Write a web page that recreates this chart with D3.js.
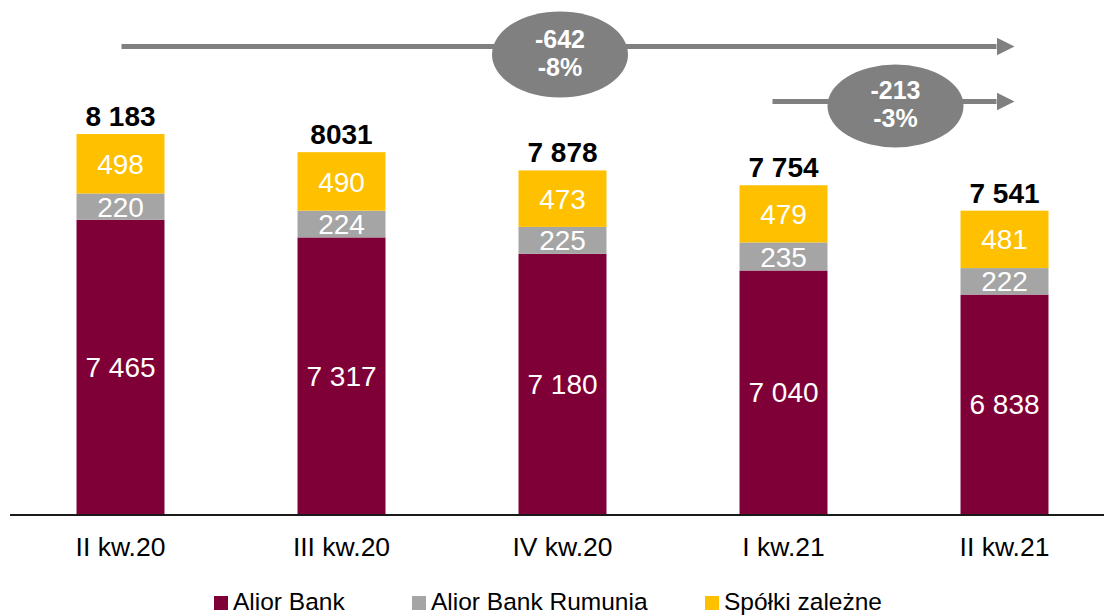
<!DOCTYPE html>
<html>
<head>
<meta charset="utf-8">
<script src="https://cdn.jsdelivr.net/npm/d3@7"></script>
<style>
  html, body { margin: 0; padding: 0; background: #fff; }
  svg { display: block; font-family: "Liberation Sans", Arial, sans-serif; }
</style>
</head>
<body>
<svg id="chart" width="1104" height="615"></svg>
<script>
// Quarterly headcount by group entity
const categories = ["II kw.20", "III kw.20", "IV kw.20", "I kw.21", "II kw.21"];
const aliorBank = [7465, 7317, 7180, 7040, 6838];
const aliorBankRumunia = [220, 224, 225, 235, 222];
const spolkiZalezne = [498, 490, 473, 479, 481];
const totalLabels = ["8 183", "8031", "7 878", "7 754", "7 541"];
const seriesNames = ["Alior Bank", "Alior Bank Rumunia", "Spółki zależne"];
const seriesColors = ["#7f0037", "#a5a5a5", "#ffc000"];

const svg = d3.select("#chart");
const W = 1104, H = 615;
const yMin = 5000;

const rows = categories.map((c, i) => ({
  cat: c,
  "Alior Bank": aliorBank[i],
  "Alior Bank Rumunia": aliorBankRumunia[i],
  "Spółki zależne": spolkiZalezne[i]
}));
const totals = rows.map((r, i) => aliorBank[i] + aliorBankRumunia[i] + spolkiZalezne[i]);

const x = d3.scaleBand()
  .domain(categories)
  .range([10, 1115])
  .paddingInner(0.602)
  .paddingOuter(0.301);

// value axis starts at 5 000
const y = d3.scaleLinear().domain([yMin, 9000]).range([514, 36.5]);

const stacked = d3.stack().keys(seriesNames)(rows);

const fmt = d3.formatLocale({
  decimal: ",", thousands: " ", grouping: [3], currency: ["", " zł"], minus: "-"
}).format(",d");

const layers = svg.append("g").selectAll("g")
  .data(stacked)
  .join("g")
  .attr("fill", (d, i) => seriesColors[i]);

layers.selectAll("rect")
  .data(d => d)
  .join("rect")
  .attr("x", d => x(d.data.cat))
  .attr("width", x.bandwidth())
  .attr("y", d => y(d[1]))
  .attr("height", d => y(Math.max(d[0], yMin)) - y(d[1]));

// segment value labels
layers.selectAll("text")
  .data(d => d)
  .join("text")
  .attr("x", d => x(d.data.cat) + x.bandwidth() / 2)
  .attr("y", d => (y(Math.max(d[0], yMin)) + y(d[1])) / 2)
  .attr("dy", "0.36em")
  .attr("text-anchor", "middle")
  .attr("fill", "#fff")
  .attr("font-size", 28)
  .text(d => fmt(d[1] - d[0]));

// totals above bars
svg.append("g").selectAll("text")
  .data(categories)
  .join("text")
  .attr("x", d => x(d) + x.bandwidth() / 2)
  .attr("y", (d, i) => y(totals[i]) - 8)
  .attr("text-anchor", "middle")
  .attr("font-size", 28)
  .attr("font-weight", "bold")
  .attr("fill", "#000")
  .text((d, i) => totalLabels[i]);

// category axis
const xAxis = svg.append("g")
  .attr("transform", "translate(0,515)")
  .call(d3.axisBottom(x).tickSize(0).tickPadding(0));
xAxis.select(".domain").attr("d", `M10,0H${W}`).attr("stroke", "#1a1a1a").attr("stroke-width", 2);
xAxis.selectAll(".tick text")
  .attr("y", 41)
  .attr("dy", 0)
  .attr("font-size", 26.5)
  .attr("font-family", "Liberation Sans, Arial, sans-serif")
  .attr("fill", "#000");

// change annotations
const gray = "#808080";
svg.append("defs").append("marker")
  .attr("id", "head")
  .attr("viewBox", "0 0 18 18")
  .attr("refX", 0).attr("refY", 9)
  .attr("markerWidth", 18).attr("markerHeight", 18)
  .attr("markerUnits", "userSpaceOnUse")
  .attr("orient", "auto")
  .append("path")
  .attr("d", "M0,0L18,9L0,18Z")
  .attr("fill", gray);

const last = categories.length - 1;
const endX = x(categories[last]) + x.bandwidth() / 2 + 10;

function arrowNote(fromIdx, startOffset, yLine, cx, cy, ry) {
  const startX = x(categories[fromIdx]) + x.bandwidth() / 2 + startOffset;
  const diff = totals[last] - totals[fromIdx];
  const pct = Math.round(diff / totals[fromIdx] * 100);
  const g = svg.append("g");
  g.append("line")
    .attr("x1", startX).attr("x2", endX - 18)
    .attr("y1", yLine).attr("y2", yLine)
    .attr("stroke", gray).attr("stroke-width", 5)
    .attr("marker-end", "url(#head)");
  g.append("ellipse")
    .attr("cx", cx).attr("cy", cy)
    .attr("rx", 68).attr("ry", ry)
    .attr("fill", gray);
  g.append("text")
    .attr("x", cx).attr("y", cy - 7)
    .attr("text-anchor", "middle").attr("fill", "#fff")
    .attr("font-size", 25).attr("font-weight", "bold")
    .text(fmt(diff));
  g.append("text")
    .attr("x", cx).attr("y", cy + 21)
    .attr("text-anchor", "middle").attr("fill", "#fff")
    .attr("font-size", 25).attr("font-weight", "bold")
    .text(pct + "%");
}
arrowNote(0, 1, 46.5, 560, 54.5, 43);
arrowNote(3, -11, 101.5, 895.5, 106, 41.5);

// legend
const legendX = [214, 412, 705];
const legend = svg.append("g").selectAll("g")
  .data(seriesNames)
  .join("g")
  .attr("transform", (d, i) => `translate(${legendX[i]},596)`);
legend.append("rect").attr("width", 14).attr("height", 14).attr("fill", (d, i) => seriesColors[i]);
legend.append("text")
  .attr("x", 19).attr("y", 14)
  .attr("font-size", 24.5)
  .attr("fill", "#000")
  .text(d => d);
</script>
</body>
</html>
